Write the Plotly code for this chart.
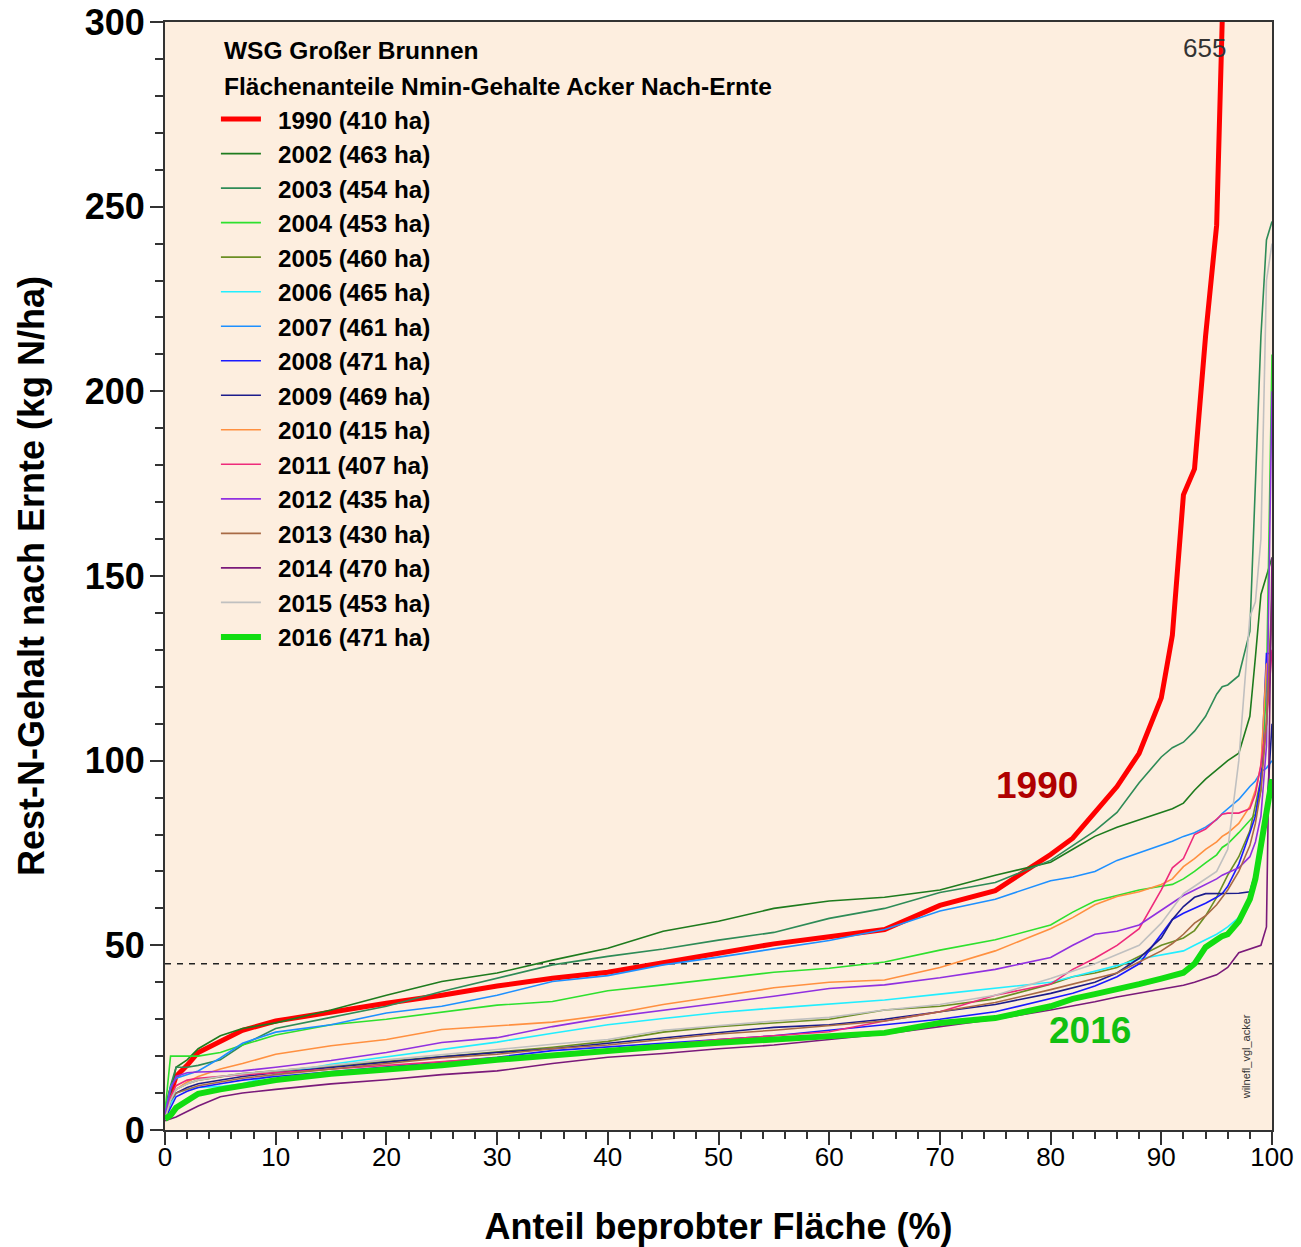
import plotly.graph_objects as go

# ---------------- data ----------------
X = [0, 0.5, 1, 2, 3, 5, 7, 10, 15, 20, 25, 30, 35, 40, 45, 50, 55, 60, 65, 70, 75, 80,
     82, 84, 86, 88, 90, 91, 92, 93, 94, 95, 95.5, 96, 97, 98, 98.5, 99, 99.5, 100]

Y_1990 = [4, 10, 14.5, 17.5, 21, 24, 27, 29.5, 32, 34.3, 36.5, 39, 41.1, 42.7, 45.3, 48, 50.4, 52.3, 54.3, 60.8, 64.8, 74.6,
          79, 86, 93, 102, 117, 134, 172, 179, 215, 245, 300, 330, 380, 430, 460, 520, 580, 655]
Y_2002 = [5, 10, 17, 19, 22, 25.5, 27.5, 29, 32.5, 36.5, 40.2, 42.5, 46, 49.2, 53.8, 56.5, 60, 62, 63, 65, 69, 72.5,
          76, 79.5, 82, 84, 86, 87, 88.5, 92, 95, 97.5, 98.5, 100, 102, 112, 128, 145, 150, 155]
Y_2003 = [5, 12, 17, 17, 17.5, 19, 23, 27.5, 30.5, 33.5, 37.5, 41, 44.7, 47, 49, 51.4, 53.5, 57.3, 60, 64.3, 67, 73,
          77, 81, 86, 94, 101, 103.5, 105, 108, 112, 118, 120, 120.5, 123, 135, 175, 215, 241, 246]
Y_2004 = [5, 20, 20, 20, 20, 21, 23, 25.7, 28.5, 30, 31.8, 33.8, 34.8, 37.7, 39.3, 41, 42.7, 43.8, 45.5, 48.7, 51.5, 55.5,
          59, 62, 63.5, 65, 66, 66.5, 68, 70, 72.3, 74.5, 76.5, 77.5, 80.5, 84, 85.5, 92, 120, 210]
Y_2005 = [3, 8, 11, 12.5, 13.5, 14.5, 15.3, 16, 17.3, 18.5, 20, 21.2, 22.4, 24, 26.5, 28, 29, 30, 32.5, 33.5, 35.5, 39.5,
          41.5, 42.5, 44, 47, 50, 51, 52, 54, 58, 63, 66, 69, 74, 81, 88, 95, 110, 145]
Y_2006 = [3, 7, 10, 11, 11.5, 11.8, 12.5, 15, 17.8, 19.8, 21.8, 23.8, 26.2, 28.5, 30.2, 31.8, 33, 34, 35.2, 36.8, 38.5, 40,
          41.5, 43, 44.5, 46.3, 47.5, 48, 48.5, 50, 51.5, 53, 54, 55, 57.5, 62, 67, 74, 85, 95]
Y_2007 = [4, 11.7, 14, 15, 16, 19.5, 23.5, 26.5, 28.5, 31.7, 33.5, 36.5, 40.2, 41.8, 44.7, 46.8, 49, 51.3, 54.3, 59.3, 62.5, 67.5,
          68.5, 70, 73, 75, 77.2, 78.2, 79.5, 80.5, 82, 84, 85.7, 87, 89.5, 93, 94.5, 97, 98, 100]
Y_2008 = [3, 6, 9, 10.5, 11.5, 12.5, 13.5, 14.5, 15.8, 17, 18.5, 19.7, 21.5, 22.5, 23.5, 24.5, 25.5, 27, 28.5, 30, 32, 35.5,
          37, 39, 41.5, 45, 53, 57, 58.7, 60, 61.4, 63, 64, 66, 72, 80.4, 85, 95, 129, 129]
Y_2009 = [3, 8, 10, 11.5, 12.5, 13.5, 14.5, 15.5, 17, 18.5, 19.8, 21, 22, 23.5, 25, 26.5, 27.8, 28.5, 30, 32, 34, 37,
          38.5, 40, 42.5, 46.5, 52, 57, 60.5, 63, 64, 64, 64, 64.1, 64.1, 64.5, 70, 75, 85, 110]
Y_2010 = [3, 9, 11, 13, 14.5, 16.5, 18, 20.5, 22.8, 24.5, 27.2, 28.3, 29.2, 31.2, 34, 36.2, 38.5, 40, 40.6, 44, 48.5, 54.5,
          57.5, 61, 63.2, 64.5, 66.5, 68, 71.3, 73.5, 76, 78, 79.5, 80.4, 83, 87.6, 92, 98.5, 126, 128]
Y_2011 = [3, 9, 12, 13.5, 14, 14.5, 15, 15.5, 16.5, 17.5, 18.5, 19.5, 20.5, 21.5, 23, 24.5, 25.5, 26.6, 29.5, 32, 36.5, 39.5,
          43.5, 46.5, 50, 54.5, 65, 71, 73.5, 80, 81.5, 84, 85.5, 85.8, 85.8, 87, 91, 99, 110, 130]
Y_2012 = [4, 11, 14.5, 15.5, 15.7, 15.8, 16, 17, 18.8, 21, 23.7, 25, 28, 30.5, 32.5, 34.3, 36.2, 38.3, 39.3, 41.2, 43.5, 46.7,
          50, 53, 53.8, 55.5, 59.5, 61.5, 63.5, 65, 66.5, 68, 69, 69.6, 71, 74, 78, 85, 104, 200]
Y_2013 = [3, 8, 10, 11, 12, 13, 14, 15, 16.5, 18, 19.5, 20.5, 22, 23, 24.5, 26, 27, 28.3, 29.5, 32, 34.5, 38,
          39.5, 41, 42.5, 45.5, 48.5, 50.5, 53, 56, 58, 61, 63, 65, 70, 77, 83, 92, 110, 140]
Y_2014 = [2.5, 3, 3.5, 5, 6.5, 9, 10, 11, 12.5, 13.6, 15, 16, 18, 19.7, 20.7, 22, 23, 24.5, 26, 28, 30, 32.5,
          33.5, 34.7, 36, 37, 38, 38.5, 39.2, 40, 41, 42, 43, 44, 48, 49, 49.5, 50, 55, 155]
Y_2015 = [3, 8, 11, 12.5, 13.5, 14.5, 15.2, 16, 17.5, 19, 20.5, 21.8, 23.2, 24.5, 27, 28.3, 29.5, 30.5, 32.5, 34, 36.5, 41,
          43, 45, 47.5, 50, 56, 60, 64, 66, 68, 70, 73, 76, 100, 139, 143, 160, 230, 240]
Y_2016 = [3, 4, 6, 8, 9.8, 11, 12, 13.5, 15.2, 16.3, 17.5, 19, 20.3, 21.5, 22.6, 23.6, 24.5, 25.2, 26.3, 29, 30.3, 33.5,
          35.5, 36.8, 38, 39.5, 41, 41.8, 42.6, 45, 49.5, 51.5, 52.5, 53, 56.5, 62.5, 68, 77, 86, 95]

YEARS = ["1990", "2002", "2003", "2004", "2005", "2006", "2007", "2008",
         "2009", "2010", "2011", "2012", "2013", "2014", "2015", "2016"]
AREAS_HA = [410, 463, 454, 453, 460, 465, 461, 471, 469, 415, 407, 435, 430, 470, 453, 471]
SERIES = [Y_1990, Y_2002, Y_2003, Y_2004, Y_2005, Y_2006, Y_2007, Y_2008,
          Y_2009, Y_2010, Y_2011, Y_2012, Y_2013, Y_2014, Y_2015, Y_2016]
COLORS = ["#ff0000", "#1e7b1e", "#2e8b57", "#2ee02e", "#6b8e23", "#22eeff", "#1e90ff", "#1a1aff",
          "#1c1c8c", "#ff9040", "#ee2a7b", "#9030e0", "#a86a45", "#7a1a7a", "#c0c0c0", "#11dd11"]
WIDTHS = [5, 1.6, 1.6, 1.6, 1.6, 1.6, 1.6, 1.6, 1.6, 1.6, 1.6, 1.6, 1.6, 1.6, 1.6, 6]

TITLE_LINES = ["WSG Großer Brunnen", "Flächenanteile Nmin-Gehalte Acker Nach-Ernte"]
THRESHOLD = 45
MAX_1990 = 655

FONT = "Liberation Sans, Arial, sans-serif"

fig = go.Figure()

fig.add_trace(go.Scatter(x=[0, 100], y=[THRESHOLD, THRESHOLD], mode="lines",
                         line=dict(color="#222222", width=1.5, dash="6px,6px"),
                         showlegend=False, hoverinfo="skip"))

for yr, ha, ys, col, w in zip(YEARS, AREAS_HA, SERIES, COLORS, WIDTHS):
    fig.add_trace(go.Scatter(x=X, y=ys, mode="lines", name=f"\u2002{yr} ({ha} ha)",
                             line=dict(color=col, width=w)))

fig.update_layout(
    width=1301, height=1247,
    margin=dict(l=165, r=29, t=22, b=117, autoexpand=False),
    paper_bgcolor="white",
    plot_bgcolor="#fdeedf",
    font=dict(family=FONT, color="black"),
    showlegend=True,
    legend=dict(
        x=0.046, y=0.9325, xanchor="left", yanchor="top",
        bgcolor="rgba(0,0,0,0)", borderwidth=0,
        font=dict(family=FONT, size=24.25, color="black", weight="bold"),
        traceorder="normal",
        itemwidth=40,
    ),
    xaxis=dict(
        range=[0, 100], tickvals=[0, 10, 20, 30, 40, 50, 60, 70, 80, 90, 100],
        ticks="outside", ticklen=13, tickwidth=2, tickcolor="#333333",
        minor=dict(dtick=2, ticks="outside", ticklen=7, tickwidth=2, tickcolor="#333333"),
        showline=True, linecolor="#333333", linewidth=2, mirror=True,
        showgrid=False, zeroline=False, automargin=False,
        ticklabelstandoff=-10,
        tickfont=dict(family=FONT, size=26, color="black"),
        title=dict(text="Anteil beprobter Fläche (%)",
                   font=dict(family=FONT, size=36, color="black", weight="bold"), standoff=45),
    ),
    yaxis=dict(
        range=[0, 300], tickvals=[0, 50, 100, 150, 200, 250, 300],
        ticks="outside", ticklen=13, tickwidth=2, tickcolor="#333333",
        minor=dict(dtick=10, ticks="outside", ticklen=8, tickwidth=2, tickcolor="#333333"),
        showline=True, linecolor="#333333", linewidth=2, mirror=True,
        showgrid=False, zeroline=False, automargin=False,
        ticklabelstandoff=-2,
        tickfont=dict(family=FONT, size=36, color="black", weight="bold"),
        title=dict(text="Rest-N-Gehalt nach Ernte (kg N/ha)",
                   font=dict(family=FONT, size=36, color="black", weight="bold"), standoff=29),
    ),
)

for i, line in enumerate(TITLE_LINES):
    fig.add_annotation(x=0.0515, y=0.9747 - i * 0.0325, xref="paper", yref="paper",
                       xanchor="left", yanchor="middle", text=line, showarrow=False,
                       font=dict(family=FONT, size=24.5, color="black", weight="bold"))

fig.add_annotation(x=93.9, y=293, xref="x", yref="y", text=str(MAX_1990), showarrow=False,
                   font=dict(family=FONT, size=26, color="#333333"))
fig.add_annotation(x=78.8, y=93.4, xref="x", yref="y", text="1990", showarrow=False,
                   font=dict(family=FONT, size=37, color="#b00000", weight="bold"))
fig.add_annotation(x=83.6, y=27, xref="x", yref="y", text="2016", showarrow=False,
                   font=dict(family=FONT, size=37, color="#11c011", weight="bold"))
fig.add_annotation(x=97.6, y=19.8, xref="x", yref="y", text="wilnefl_vgl_acker", showarrow=False,
                   textangle=-90, font=dict(family=FONT, size=11, color="#333333"))

fig.write_html("out.html")
